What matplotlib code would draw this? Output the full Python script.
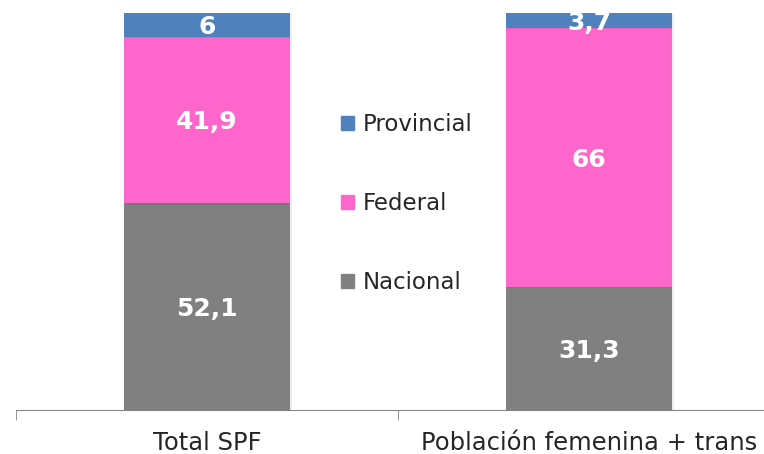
import numpy as np
import matplotlib.pyplot as plt
import matplotlib.patheffects as pe
from matplotlib.patches import Patch

categories = ["Total SPF", "Población femenina + trans"]
series = ["Nacional", "Federal", "Provincial"]
nacional = [52.1, 31.3]
federal = [41.9, 66.0]
provincial = [6.0, 3.7]
colors = ["#808080", "#FF66CC", "#4F81BD"]

plt.rcParams['font.family'] = ['DejaVu Sans']

fig = plt.figure(figsize=(7.64, 4.54), dpi=100)
ax = fig.add_axes([16 / 764, 44 / 454, 764 / 764, 397 / 454])

data = np.array([nacional, federal, provincial])
pct = data / data.sum(axis=0) * 100  # 100% stacked
x = np.arange(len(categories))
bottom = np.zeros(len(categories))
shadow = [pe.SimplePatchShadow(offset=(1, -1), alpha=0.08), pe.Normal()]
for vals, raw, name, c in zip(pct, data, series, colors):
    bars = ax.bar(x, vals, 0.437, bottom=bottom, color=c, zorder=2)
    for b in bars:
        b.set_path_effects(shadow)
    for xi, b, v, r in zip(x, bottom, vals, raw):
        txt = f"{r:g}".replace(".", ",")
        ax.text(xi, b + v / 2, txt, ha="center", va="center_baseline", color="white",
                fontsize=18, fontweight="bold", zorder=3)
    bottom += vals

ax.set_xlim(-0.5, 1.5)
ax.set_ylim(0, 100)
for s in ["top", "right", "left"]:
    ax.spines[s].set_visible(False)
ax.spines["bottom"].set_color("#868686")
ax.set_yticks([])
ax.set_xticks(x)
ax.set_xticklabels(categories, fontsize=17.5, color="#262626")
ax.tick_params(axis="x", which="major", length=0, pad=15)
ax.set_xticks([-0.5, 0.5, 1.5], minor=True)
ax.tick_params(axis="x", which="minor", length=7, color="#868686", direction="out")

handles = [Patch(color=c, label=n) for n, c in zip(series, colors)][::-1]
ax.legend(handles=handles, loc="center", bbox_to_anchor=(0.5325 - 16 / 764, 0.5 + 8 / 397),
          frameon=False, fontsize=16.5, labelspacing=2.45, handlelength=0.55, handleheight=0.55,
          handletextpad=0.4, labelcolor="#262626")

fig.savefig("out.png", dpi=100)
